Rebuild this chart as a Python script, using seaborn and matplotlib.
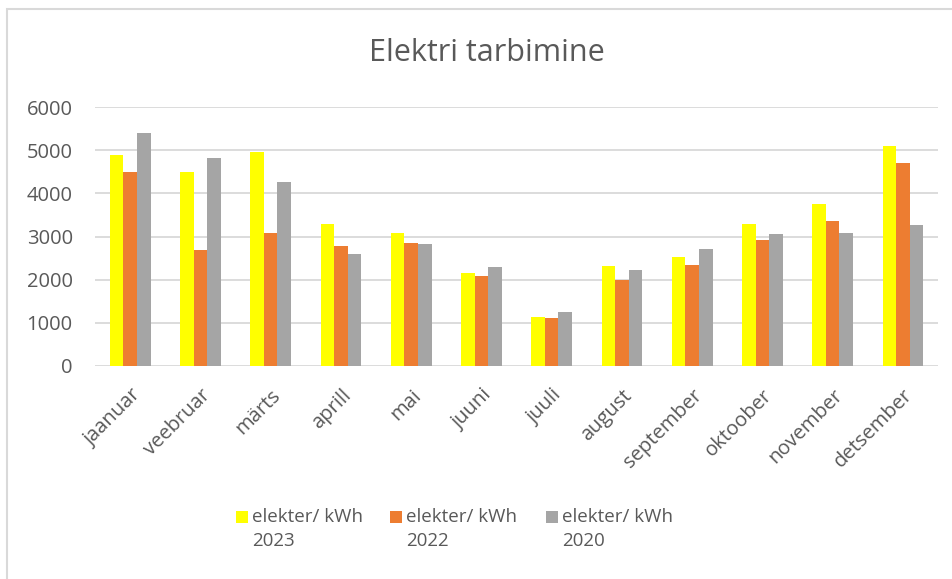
import matplotlib
matplotlib.use('Agg')
import matplotlib.pyplot as plt
from matplotlib.patches import Rectangle
import seaborn as sns
import pandas as pd

# data
months = ['jaanuar', 'veebruar', 'märts', 'aprill', 'mai', 'juuni',
          'juuli', 'august', 'september', 'oktoober', 'november', 'detsember']
kwh_2023 = [4900, 4490, 4970, 3300, 3090, 2150, 1140, 2315, 2530, 3285, 3745, 5105]
kwh_2022 = [4490, 2680, 3085, 2775, 2860, 2080, 1110, 1990, 2330, 2915, 3355, 4705]
kwh_2020 = [5410, 4830, 4255, 2605, 2835, 2290, 1240, 2235, 2715, 3060, 3085, 3270]
series = ['elekter/ kWh\n2023', 'elekter/ kWh\n2022', 'elekter/ kWh\n2020']
colors = ['#FFFF00', '#ED7D31', '#A5A5A5']

df = pd.DataFrame({
    'kuu': months * 3,
    'kwh': kwh_2023 + kwh_2022 + kwh_2020,
    'seeria': [series[0]] * 12 + [series[1]] * 12 + [series[2]] * 12,
})

sns.set_style('white')
plt.rcParams['font.family'] = ['Open Sans', 'DejaVu Sans']
text_color = '#595959'
grid_color = '#D9D9D9'
W, H = 953, 579

fig = plt.figure(figsize=(W / 100, H / 100), dpi=100)
ax = fig.add_axes([0.0997, 0.368, 0.8846, 0.447])

sns.barplot(data=df, x='kuu', y='kwh', hue='seeria', palette=colors,
            width=0.58, gap=0, ax=ax, legend=False, linewidth=0, saturation=1)

ax.set_ylim(0, 6000)
ax.set_xlim(-0.5, 11.5)
ax.set_yticks(range(0, 7000, 1000))
ax.yaxis.grid(True, color=grid_color, linewidth=1.3)
ax.set_axisbelow(True)
for s in ax.spines.values():
    s.set_visible(False)
ax.set_xlabel('')
ax.set_ylabel('')
ax.tick_params(axis='both', length=0, colors=text_color, labelsize=14.5)
ax.tick_params(axis='y', pad=16)
ax.tick_params(axis='x', pad=14)
plt.setp(ax.get_xticklabels(), rotation=45, ha='right', va='top',
         rotation_mode='anchor')

fig.text(0.511, 0.908, 'Elektri tarbimine', ha='center', va='center',
         fontsize=22, color=text_color)

# chart area border
fig.add_artist(Rectangle((7 / W, -0.05), 1.0, 1 - 9 / H + 0.05,
                         transform=fig.transFigure, fill=False,
                         edgecolor=grid_color, linewidth=1.5))

# legend: square next to the first line of a two-line label
leg_x = [236, 390, 546]
for x0, c, lab in zip(leg_x, colors, series):
    fig.add_artist(Rectangle((x0 / W, 1 - 523 / H), 12 / W, 12 / H,
                             transform=fig.transFigure, facecolor=c,
                             edgecolor='none'))
    fig.text((x0 + 16) / W, 1 - 508 / H, lab, ha='left', va='top',
             fontsize=13.5, color=text_color, linespacing=1.45)

fig.savefig('out.png', dpi=100)
